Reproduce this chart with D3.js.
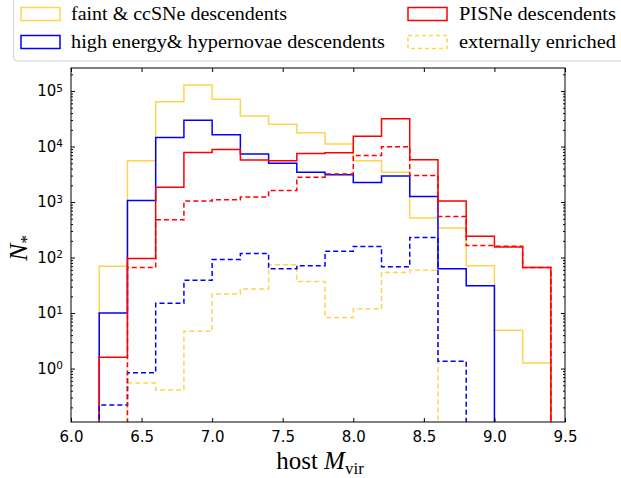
<!DOCTYPE html>
<html>
<head>
  <style>
    body { margin: 0; background: #fff; }
    .tick text { font-family: "DejaVu Sans", sans-serif; font-size: 15px; fill: #000; }
  </style>
</head>
<body>
  <script src="https://d3js.org/d3.v7.min.js"></script>
  <script>
    var width = 621, height = 478;

    // bin edges of the host halo mass histogram
    var binEdges = [6.2, 6.4, 6.6, 6.8, 7.0, 7.2, 7.4, 7.6, 7.8, 8.0, 8.2, 8.4, 8.6, 8.8, 9.0, 9.2, 9.4];

    var faintCC    = [70, 5560, 64000, 128000, 71000, 35500, 25300, 17800, 11100, 5560, 3440, 514, 340, 71, 4.9, 1.26];
    var highEnergy = [10, 1070, 14500, 29700, 16300, 7330, 5000, 3440, 3090, 2240, 2960, 1260, 63, 31, 0, 0];
    var pisne      = [1.6, 96, 1850, 7830, 8870, 5720, 5560, 7530, 7760, 15400, 31600, 5800, 1040, 242, 155, 66];
    var extFaint   = [0, 0.55, 0.41, 4.7, 22, 27, 74, 37, 8.3, 11.9, 54, 59, 0, 0, 0, 0];
    var extHigh    = [0.22, 0.84, 15, 39, 92, 118, 63, 71, 130, 159, 68, 230, 1.35, 0, 0, 0];
    var extPisne   = [0, 66, 480, 1040, 1100, 1230, 1620, 2800, 3210, 6900, 9900, 3000, 550, 165, 160, 66];

    var xTicks = [6.0, 6.5, 7.0, 7.5, 8.0, 8.5, 9.0, 9.5];
    var yTicks = [1, 10, 100, 1000, 10000, 100000];

    var yellow = "#ffd44f", blue = "#0000ff", red = "#ff0000";
    var serif = "'Liberation Serif', 'DejaVu Serif', serif";

    var series = [
      {values: faintCC, color: yellow, dash: null},
      {values: highEnergy, color: blue, dash: null},
      {values: pisne, color: red, dash: null},
      {values: extFaint, color: yellow, dash: "5,3"},
      {values: extHigh, color: blue, dash: "5,3"},
      {values: extPisne, color: red, dash: "5,3"}
    ];

    var legendItems = [
      {label: "faint & ccSNe descendents", color: yellow, dash: null, col: 0, row: 0, len: 216},
      {label: "high energy& hypernovae descendents", color: blue, dash: null, col: 0, row: 1, len: 314},
      {label: "PISNe descendents", color: red, dash: null, col: 1, row: 0, len: 157},
      {label: "externally enriched", color: yellow, dash: "4,3", col: 1, row: 1, len: 157}
    ];

    var pl = 71, pr = 565, pt = 68, pb = 422;

    var x = d3.scaleLinear().domain([6, 9.5]).range([pl, pr]);
    var y = d3.scaleLog().domain([0.109, 2.6e5]).range([pb, pt]);

    var svg = d3.select("body").append("svg")
        .attr("width", width)
        .attr("height", height);

    svg.append("clipPath").attr("id", "plot")
      .append("rect")
        .attr("x", pl).attr("y", pt)
        .attr("width", pr - pl).attr("height", pb - pt);

    function yv(v) {
      return v > 0 ? y(v) : pb + 5;
    }

    function stepPoints(vals) {
      var pts = [[x(binEdges[0]), pb + 5]];
      vals.forEach(function(v, i) {
        pts.push([x(binEdges[i]), yv(v)]);
        pts.push([x(binEdges[i + 1]), yv(v)]);
      });
      pts.push([x(binEdges[binEdges.length - 1]), pb + 5]);
      return pts;
    }

    var line = d3.line();

    svg.append("g").attr("clip-path", "url(#plot)")
      .selectAll("path")
      .data(series)
      .enter().append("path")
        .attr("d", d => line(stepPoints(d.values)))
        .attr("fill", "none")
        .attr("stroke", d => d.color)
        .attr("stroke-width", 1.5)
        .attr("stroke-dasharray", d => d.dash);

    // minor log ticks
    var minors = [];
    for (var e = -1; e <= 5; e++) {
      for (var m = 2; m <= 9; m++) {
        var v = m * Math.pow(10, e);
        if (v > y.domain()[0] && v < y.domain()[1]) minors.push(v);
      }
    }

    svg.append("g")
        .attr("transform", "translate(0," + pb + ")")
        .call(d3.axisBottom(x).tickValues(xTicks).tickFormat(d3.format(".1f")).tickSizeInner(-4).tickSizeOuter(0).tickPadding(9));
    svg.append("g")
        .attr("transform", "translate(0," + pt + ")")
        .call(d3.axisTop(x).tickValues(xTicks).tickFormat("").tickSizeInner(-4).tickSizeOuter(0));

    var yLeft = svg.append("g")
        .attr("transform", "translate(" + pl + ",0)")
        .call(d3.axisLeft(y).tickValues(yTicks).tickSizeInner(-4).tickSizeOuter(0).tickPadding(8));
    yLeft.selectAll(".tick text").each(function(d) {
      var t = d3.select(this).text("");
      t.append("tspan").text("10");
      t.append("tspan").attr("dy", "-0.45em").attr("font-size", "10.5px").text(Math.round(Math.log10(d)));
    });
    svg.append("g")
        .attr("transform", "translate(" + pl + ",0)")
        .call(d3.axisLeft(y).tickValues(minors).tickFormat("").tickSizeInner(-2).tickSizeOuter(0));
    svg.append("g")
        .attr("transform", "translate(" + pr + ",0)")
        .call(d3.axisRight(y).tickValues(yTicks).tickFormat("").tickSizeInner(-4).tickSizeOuter(0));
    svg.append("g")
        .attr("transform", "translate(" + pr + ",0)")
        .call(d3.axisRight(y).tickValues(minors).tickFormat("").tickSizeInner(-2).tickSizeOuter(0));

    svg.selectAll(".domain").remove();
    svg.append("rect")
        .attr("x", pl).attr("y", pt)
        .attr("width", pr - pl).attr("height", pb - pt)
        .attr("fill", "none").attr("stroke", "#000").attr("stroke-width", 1);

    // axis labels
    var xl = svg.append("text")
        .attr("font-family", serif)
        .attr("x", 320).attr("y", 469)
        .attr("text-anchor", "middle")
        .attr("font-size", "25px");
    xl.append("tspan").text("host ");
    xl.append("tspan").attr("font-style", "italic").text("M");
    xl.append("tspan").attr("dy", "5").attr("font-size", "17px").text("vir");

    var yl = svg.append("text")
        .attr("font-family", serif)
        .attr("transform", "translate(27,248) rotate(-90)")
        .attr("text-anchor", "middle")
        .attr("font-size", "26px");
    yl.append("tspan").attr("font-style", "italic").text("N");
    yl.append("tspan").attr("dy", "5").attr("font-size", "17px").text("*");

    // legend
    svg.append("rect")
        .attr("x", 13.5).attr("y", -10)
        .attr("width", 640).attr("height", 71)
        .attr("rx", 4)
        .attr("fill", "#fff").attr("fill-opacity", 0.8)
        .attr("stroke", "#d0d0d0").attr("stroke-width", 1);

    var colX = [21, 408], textX = [71, 459], rowY = [14, 42];
    var lg = svg.selectAll("g.leg")
        .data(legendItems)
      .enter().append("g").attr("class", "leg");
    lg.append("rect")
        .attr("x", d => colX[d.col]).attr("y", d => rowY[d.row] - 6.5)
        .attr("width", 39).attr("height", 13)
        .attr("fill", "none")
        .attr("stroke", d => d.color).attr("stroke-width", 1.5)
        .attr("stroke-dasharray", d => d.dash);
    lg.append("text")
        .attr("font-family", serif)
        .attr("x", d => textX[d.col]).attr("y", d => rowY[d.row] + 6)
        .attr("font-size", "18px")
        .attr("textLength", d => d.len)
        .attr("lengthAdjust", "spacingAndGlyphs")
        .text(d => d.label);
  </script>
</body>
</html>
